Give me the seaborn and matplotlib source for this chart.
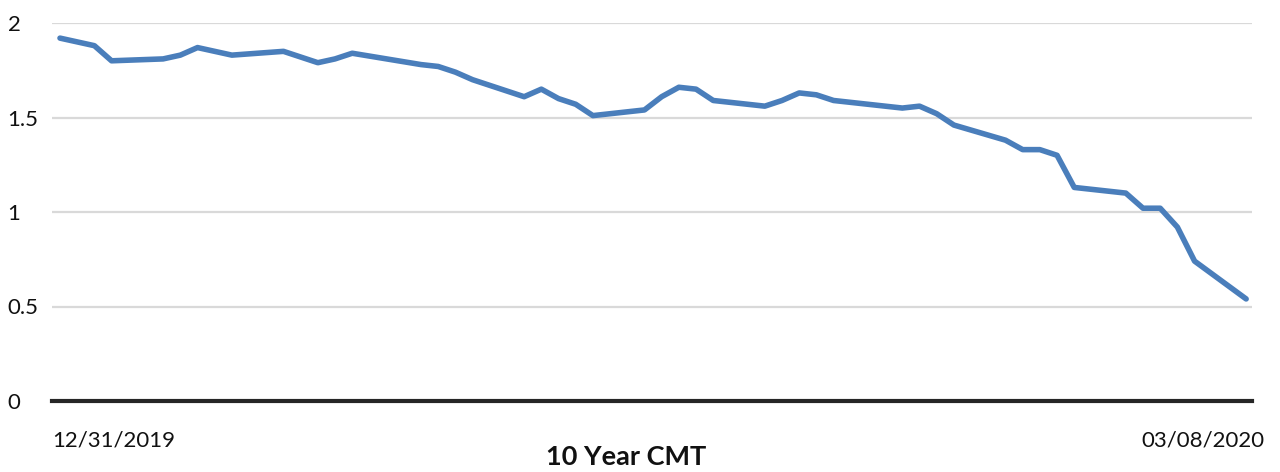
import matplotlib
matplotlib.use("Agg")
import matplotlib.pyplot as plt
import matplotlib.transforms as mtransforms
import pandas as pd
import seaborn as sns

# 10-year constant maturity Treasury yield, daily (percent)
dates = [
    "2019-12-31", "2020-01-02", "2020-01-03", "2020-01-06", "2020-01-07",
    "2020-01-08", "2020-01-09", "2020-01-10", "2020-01-13", "2020-01-14",
    "2020-01-15", "2020-01-16", "2020-01-17", "2020-01-21", "2020-01-22",
    "2020-01-23", "2020-01-24", "2020-01-27", "2020-01-28", "2020-01-29",
    "2020-01-30", "2020-01-31", "2020-02-03", "2020-02-04", "2020-02-05",
    "2020-02-06", "2020-02-07", "2020-02-10", "2020-02-11", "2020-02-12",
    "2020-02-13", "2020-02-14", "2020-02-18", "2020-02-19", "2020-02-20",
    "2020-02-21", "2020-02-24", "2020-02-25", "2020-02-26", "2020-02-27",
    "2020-02-28", "2020-03-02", "2020-03-03", "2020-03-04", "2020-03-05",
    "2020-03-06", "2020-03-09",
]
yields = [
    1.92, 1.88, 1.80, 1.81, 1.83,
    1.87, 1.85, 1.83, 1.85, 1.82,
    1.79, 1.81, 1.84, 1.78, 1.77,
    1.74, 1.70, 1.61, 1.65, 1.60,
    1.57, 1.51, 1.54, 1.61, 1.66,
    1.65, 1.59, 1.56, 1.59, 1.63,
    1.62, 1.59, 1.55, 1.56, 1.52,
    1.46, 1.38, 1.33, 1.33, 1.30,
    1.13, 1.10, 1.02, 1.02, 0.92,
    0.74, 0.54,
]
y_ticks = [0, 0.5, 1, 1.5, 2]
y_tick_labels = ["0", "0.5", "1", "1.5", "2"]
x_tick_labels = ["12/31/2019", "03/08/2020"]
title = "10 Year CMT"

df = pd.DataFrame({"date": pd.to_datetime(dates), "yield": yields})

sns.set_theme(style="white")
plt.rcParams["font.family"] = ["Lato", "DejaVu Sans"]

W, H = 1280, 472
fig = plt.figure(figsize=(W / 100, H / 100), dpi=100)
ax = fig.add_axes([52 / W, (H - 401) / H, 1200 / W, (401 - 23) / H])

sns.lineplot(data=df, x="date", y="yield", ax=ax, color="#4a7ebb",
             linewidth=4.0, solid_joinstyle="round", solid_capstyle="round")

# Axis limits: small padding around the first/last observation
start = df["date"].iloc[0]
x0 = start - pd.Timedelta(days=0.465)
x1 = start + pd.Timedelta(days=69.34)
ax.set_xlim(x0, x1)
ax.set_ylim(0, 2)

# Horizontal gridlines and a heavy baseline at zero
ax.set_yticks(y_ticks)
ax.set_yticklabels(y_tick_labels)
ax.yaxis.grid(True, color="#d9d9d9", linewidth=1.6)
ax.xaxis.grid(False)
ax.set_axisbelow(True)
for side in ["left", "right", "top"]:
    ax.spines[side].set_visible(False)
ax.spines["bottom"].set_color("#262626")
ax.spines["bottom"].set_linewidth(3.0)
ax.spines["bottom"].set_zorder(3)

ax.tick_params(axis="y", length=0, pad=32, labelsize=16, labelcolor="#111111")
for lbl in ax.get_yticklabels():
    lbl.set_horizontalalignment("left")

ax.set_xticks([x0, x1])
ax.set_xticklabels(x_tick_labels)
ax.tick_params(axis="x", length=0, pad=21, labelsize=16, labelcolor="#111111")
xl = ax.get_xticklabels()
xl[0].set_horizontalalignment("left")
xl[1].set_horizontalalignment("right")
xl[1].set_transform(xl[1].get_transform() +
                    mtransforms.ScaledTranslation(13 / 100, 0, fig.dpi_scale_trans))

ax.set_xlabel("")
ax.set_ylabel("")
fig.text(626 / W, (H - 457) / H, title, ha="center", va="center",
         fontsize=19.5, fontweight="bold", color="#111111")

fig.savefig("out.png", dpi=100, facecolor="white")
